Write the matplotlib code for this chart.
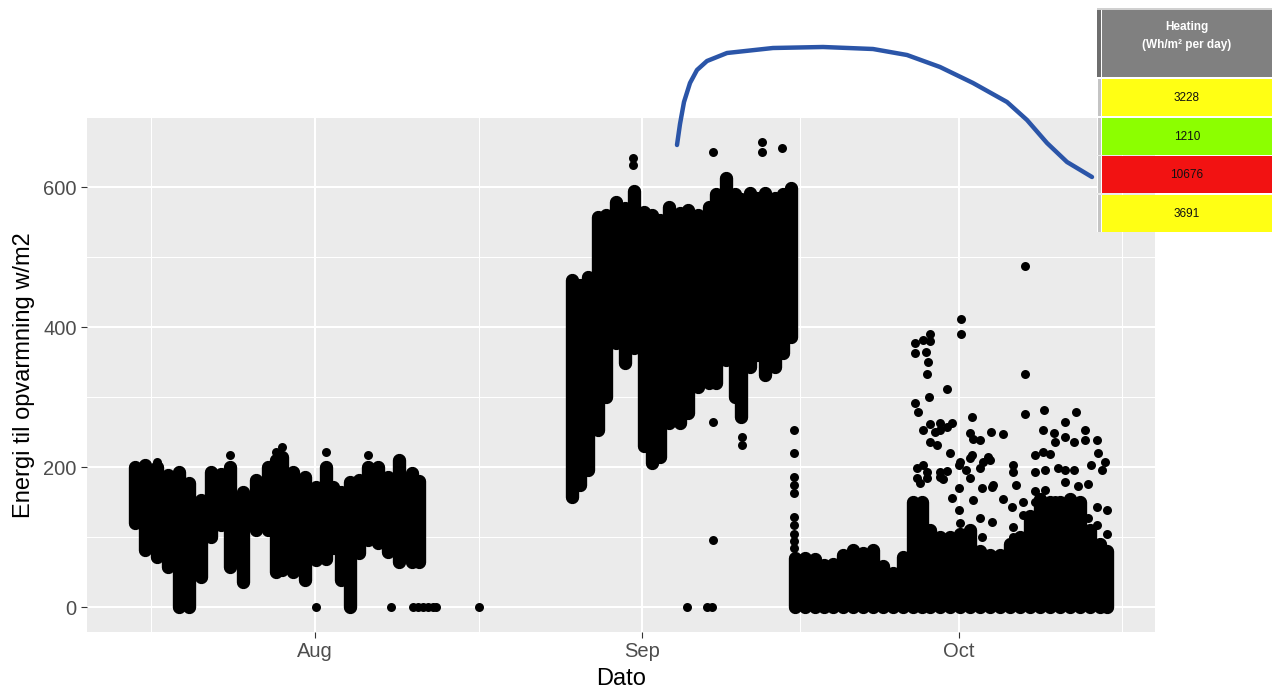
import numpy as np
import matplotlib
matplotlib.use("Agg")
import matplotlib.pyplot as plt
import matplotlib.dates as mdates
from matplotlib.patches import Rectangle
from datetime import datetime

plt.rcParams['font.family'] = ['Liberation Sans', 'DejaVu Sans']

# days counted from 1 July; the dense readings are kept as a low/high range per step
band_day = [13.9, 14.9, 16.0, 17.1, 18.1, 19.1, 20.2, 21.1, 22.1, 22.9, 24.2, 25.4, 26.5,
            27.3, 27.9, 28.9, 30.1, 31.1, 32.0, 32.7, 33.5, 34.3, 35.2, 36.0, 37.0, 37.9,
            39.0, 40.2, 40.9,
            55.4, 56.1, 56.9, 57.8, 58.6, 59.5, 60.4, 61.2, 62.2, 62.9, 63.7, 64.6, 65.6,
            66.4, 67.3, 68.3, 69.0, 70.0, 70.8, 71.4, 72.2, 72.9, 73.7, 74.6, 75.4, 76.1,
            76.5, 77.4, 78.4, 79.2, 80.1, 81.0, 82.0, 82.9, 83.9, 84.8, 85.8, 86.7, 87.7,
            88.5, 89.3, 90.2, 91.2, 92.1, 93.1, 94.0, 95.0, 95.9, 96.9, 97.8, 98.8, 99.7,
            100.7, 101.6, 102.6, 103.5, 104.5, 105.4, 106.1]
band_low = [120, 81, 71, 57, 0, 0, 43, 100, 117, 57, 36, 110, 110,
            50, 53, 50, 39, 67, 69, 84, 39, 0, 77, 96, 91, 79,
            64, 64, 64,
            157, 175, 196, 253, 300, 377, 349, 370, 230, 206, 215, 263, 263,
            277, 314, 320, 320, 353, 300, 271, 343, 360, 331, 343, 363, 386,
            0, 0, 0, 0, 0, 0, 0, 0, 0, 0, 0, 0, 0,
            0, 0, 0, 0, 0, 0, 0, 0, 0, 0, 0, 0, 0,
            0, 0, 0, 0, 0, 0, 0]
band_high = [200, 203, 200, 189, 193, 177, 153, 193, 190, 200, 164, 181, 200,
             210, 215, 193, 186, 171, 200, 171, 164, 179, 181, 200, 200, 186,
             210, 191, 180,
             467, 460, 471, 557, 560, 579, 570, 595, 564, 560, 553, 571, 563,
             567, 560, 571, 590, 613, 590, 583, 591, 585, 591, 585, 590, 599,
             70, 70, 68, 60, 62, 74, 81, 77, 81, 58, 48, 72, 150,
             150, 110, 100, 100, 105, 110, 80, 75, 75, 90, 100, 130, 155,
             150, 150, 155, 150, 110, 90, 80]

# single readings that stand apart from the dense bands
pt_day = [31.1, 38.2, 40.3, 40.8, 41.2, 41.7, 42.2, 42.5, 46.5,
          16.0, 22.9, 27.3, 27.9, 32.0, 36.0,
          61.1, 61.1, 68.7, 68.7, 68.7, 71.5, 71.5, 73.4, 73.4, 75.3, 66.3, 68.2, 68.6,
          76.4, 76.4, 76.4, 76.4, 76.4, 76.4, 76.4, 76.4, 76.4, 76.4,
          87.9, 87.9, 87.9, 88.2, 88.1, 88.1, 88.3, 88.6, 88.6, 88.6, 88.9, 89.0, 89.0,
          89.0, 89.1, 89.2, 89.3, 89.3, 89.3, 89.3, 89.8, 90.0, 90.2, 90.2, 90.2, 90.2,
          90.5, 90.9, 90.9, 90.9, 91.2, 91.4, 91.4, 92.0, 92.0, 92.0, 92.1, 92.1, 92.2,
          92.2, 92.7, 93.1, 93.1, 93.1, 93.3, 93.3, 93.4, 93.4, 94.0, 94.0, 94.0, 94.2,
          94.2, 94.3, 94.8, 95.0, 95.1, 95.2, 95.2, 95.3, 96.2, 96.2, 96.2, 97.1, 97.2,
          97.2, 97.2, 97.2, 97.4, 98.1, 98.1, 98.3, 98.3, 98.3, 98.3, 99.2, 99.2, 99.2,
          99.2, 100.0, 100.0, 100.1, 100.2, 100.2, 100.7, 101.0, 101.1, 101.1, 101.4,
          102.1, 102.1, 102.1, 102.1, 102.9, 102.9, 103.1, 103.3, 104.0, 104.0, 104.3,
          104.3, 104.6, 105.1, 105.1, 105.1, 105.2, 105.6, 105.9, 106.1, 106.1]
pt_val = [0, 0, 0, 0, 0, 0, 0, 0, 0,
          207, 217, 221, 229, 221, 217,
          641, 631, 650, 264, 96, 243, 231, 664, 650, 656, 0, 0, 0,
          253, 220, 186, 175, 163, 129, 117, 105, 95, 84,
          377, 363, 291, 279, 199, 185, 177, 381, 253, 203, 365, 333, 193,
          184, 350, 300, 390, 380, 261, 236, 250, 231, 263, 253, 193, 186,
          183, 311, 257, 195, 220, 263, 156, 203, 170, 139, 207, 120, 411,
          390, 196, 249, 213, 184, 272, 217, 240, 153, 239, 199, 127, 170,
          100, 207, 214, 210, 250, 171, 121, 174, 247, 155, 70, 143, 203,
          193, 114, 100, 174, 150, 131, 487, 333, 276, 100, 217, 193, 166,
          150, 253, 221, 281, 196, 167, 219, 249, 236, 153, 199,
          264, 243, 196, 178, 236, 196, 279, 173, 253, 238, 176,
          127, 203, 239, 143, 117, 220, 196, 207, 139, 104]

table_title = "Heating\n(Wh/m² per day)"
table_values = [3228, 1210, 10676, 3691]
table_colors = ['#FFFF14', '#8CFF00', '#F21212', '#FFFF14']

# curve drawn over the figure, in pixels
curve_x = [677, 680, 684, 690, 697, 707, 727, 773, 823, 873, 907, 940, 973, 1007, 1027, 1047, 1067, 1092]
curve_y = [145, 124, 102, 83, 70, 61, 53, 48, 47, 49, 55, 67, 83, 102, 120, 143, 162, 177]

base = mdates.date2num(datetime(2021, 7, 1))

fig = plt.figure(figsize=(12.72, 6.91), dpi=100)
ax = fig.add_axes([87 / 1272, 1 - 632 / 691, (1155 - 87) / 1272, (632 - 118) / 691])
ax.set_facecolor('#EBEBEB')
for s in ax.spines.values():
    s.set_visible(False)

lc = ax.vlines(base + np.array(band_day), band_low, band_high, color='black', linewidth=9.6)
lc.set_capstyle('round')
ax.scatter(base + np.array(pt_day), pt_val, s=42, color='black', linewidths=0, zorder=3)

months = [datetime(2021, m, 1) for m in (7, 8, 9, 10, 11)]
mnums = mdates.date2num(months)
ax.set_xticks(mnums)
ax.xaxis.set_major_formatter(mdates.DateFormatter('%b'))
ax.set_xticks((mnums[:-1] + mnums[1:]) / 2, minor=True)
ax.set_yticks([0, 200, 400, 600])
ax.set_yticks([100, 300, 500], minor=True)

# limits after ticks, set_xticks widens the view otherwise
ax.set_xlim(base + 9.39, base + 110.62)
ax.set_ylim(-35.7, 698.6)

ax.grid(which='major', color='white', linewidth=1.5)
ax.grid(which='minor', color='white', linewidth=0.75)
ax.set_axisbelow(True)
ax.tick_params(which='major', length=4.3, width=0.8, color='#333333', labelcolor='#4D4D4D',
               labelsize=14.5, pad=3)
ax.tick_params(which='minor', length=0)

ax.set_xlabel('Dato', fontsize=17, labelpad=5)
ax.set_ylabel('Energi til opvarmning w/m2', fontsize=17, labelpad=6)

# overlay for table and drawn curve
ov = fig.add_axes([0, 0, 1, 1], zorder=5)
ov.set_xlim(0, 1272)
ov.set_ylim(691, 0)
ov.axis('off')
ov.patch.set_alpha(0)

ov.plot(curve_x, curve_y, color='#2B55A8', linewidth=3.2, solid_capstyle='round')

ov.add_patch(Rectangle((1097, 8), 175, 2, color='#D0D0D0', lw=0))
ov.add_patch(Rectangle((1097, 10), 4, 67, color='#6E6E6E', lw=0))
ov.add_patch(Rectangle((1102, 10), 170, 67, color='#808080', lw=0))
ov.text(1187, 36, table_title, ha='center', va='center', color='white',
        fontsize=8.5, fontweight='bold', linespacing=1.7)
row_tops = [79, 118, 156, 195]
for top, val, col in zip(row_tops, table_values, table_colors):
    ov.add_patch(Rectangle((1097, top), 175, 37, color='white', lw=0))
    ov.add_patch(Rectangle((1098, top), 3, 37, color='#C4C4C4', lw=0))
    ov.add_patch(Rectangle((1102, top), 170, 37, color=col, lw=0))
    ov.text(1187, top + 18.5, str(val), ha='center', va='center', color='#111111', fontsize=8.5)

fig.savefig('out.png', dpi=100)
